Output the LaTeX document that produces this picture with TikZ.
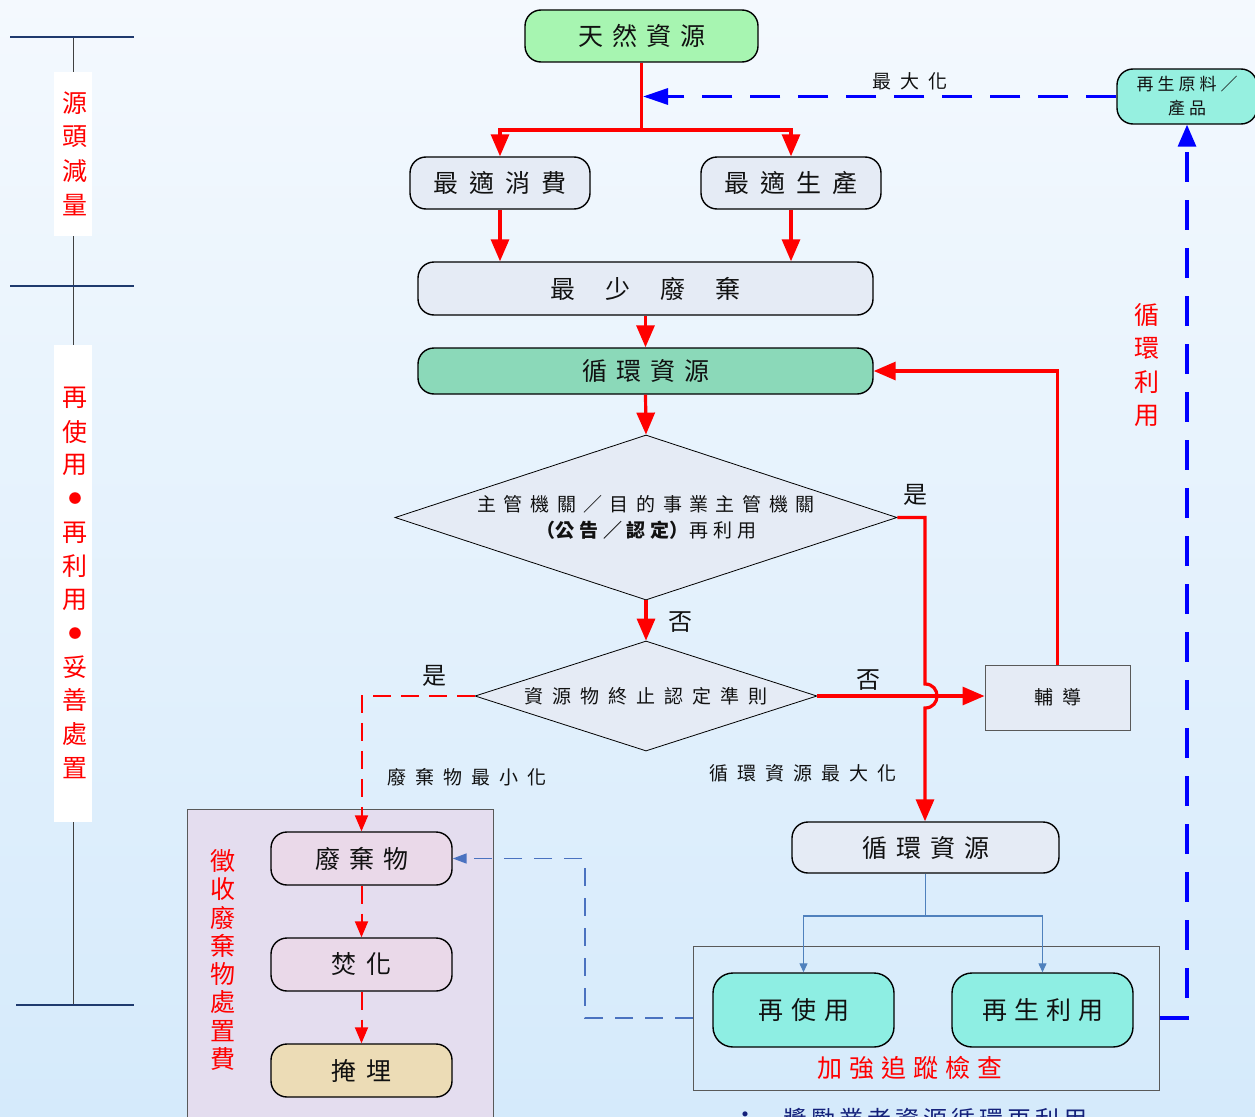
\documentclass[tikz,border=0pt]{standalone}
\usepackage{fontspec}
\setmainfont{Noto Sans CJK TC}
\usetikzlibrary{arrows.meta,shapes.geometric}
\definecolor{bgtop}{HTML}{F4F9FE}
\definecolor{bgbot}{HTML}{D5EAFB}
\definecolor{cGreen}{HTML}{A7F5B1}
\definecolor{cLav}{HTML}{E5EBF5}
\definecolor{cMint}{HTML}{8BD9B9}
\definecolor{cTeal}{HTML}{8EEEE3}
\definecolor{cRaw}{HTML}{96F0E0}
\definecolor{cPink}{HTML}{EAD9E9}
\definecolor{cBeige}{HTML}{ECDCB6}
\definecolor{cLbox}{HTML}{E4DDEF}
\definecolor{cSteel}{HTML}{4F81BD}
\definecolor{cBlueThin}{HTML}{4A72C0}
\definecolor{cNavy}{HTML}{1F3A6E}
\definecolor{cRed}{HTML}{FF0000}
\definecolor{cBlue}{HTML}{0000FF}
\definecolor{cText}{HTML}{111111}
\definecolor{cAward}{HTML}{14207A}
\newcommand\fsL{\fontsize{25}{30}\selectfont}
\newcommand\fsM{\fontsize{19}{26}\selectfont}
\newcommand\fsS{\fontsize{17}{23}\selectfont}
\newcommand\spc[2]{\def\spcgap{\hspace*{#1}}\spcloop#2\spcend}
\def\spcloop#1#2\spcend{#1\ifx\relax#2\relax\else\spcgap\spcloop#2\spcend\fi}
\newcommand\rdot{{\fontsize{13}{13}\selectfont ●}}
\begin{document}
\begin{tikzpicture}[x=1pt,y=-1pt,
  rbox/.style={draw=black, line width=1.4pt, rounded corners=16pt, inner sep=0pt, text=cText},
  redarrow/.style={draw=cRed, line width=3.2pt, -{Triangle[length=22pt,width=18pt]}},
  redline/.style={draw=cRed, line width=3.2pt},
  reddash/.style={draw=cRed, line width=2pt, dash pattern=on 18pt off 10pt, -{Triangle[length=16pt,width=13pt]}},
  bluedash/.style={draw=cBlue, line width=3.2pt, dash pattern=on 30pt off 18pt},
  bluethin/.style={draw=cBlueThin, line width=1.6pt, dash pattern=on 18pt off 12pt, -{Triangle[length=14pt,width=10pt]}},
  steel/.style={draw=cSteel, line width=1.2pt, -{Triangle[length=9pt,width=8pt]}},
  dia/.style={draw=black, line width=0.8pt, fill=cLav, shape=diamond, inner sep=0pt},
  lbl/.style={text=cText, inner sep=0pt},
  redv/.style={text=cRed, inner sep=0pt, font=\fsL},
]
\useasboundingbox (0,0) rectangle (1255,1116);
\shade[top color=bgtop, bottom color=bgbot] (0,0) rectangle (1255,1116);

% left scale bar
\draw[draw=black!75, line width=1pt] (73,37) -- (73,1005);
\draw[cNavy, line width=1.3pt] (10,37) -- (134,37);
\draw[cNavy, line width=1.3pt] (10,286) -- (134,286);
\draw[cNavy, line width=1.3pt] (16,1005) -- (134,1005);
\fill[white] (54,72) rectangle (92,236);
\fill[white] (54,345) rectangle (92,822);
\foreach \c [count=\i from 0] in {源,頭,減,量}
  \node[redv] (srcr\i) at (75,103+34*\i) {\c};
\foreach \c [count=\i from 0] in {再,使,用,\rdot,再,利,用,\rdot,妥,善,處,置}
  \node[redv] (reu\i) at (75,398+33.6*\i) {\c};

% boxes behind
\node[draw=black!65, fill=cLbox, line width=1pt, minimum width=306pt, minimum height=330pt, anchor=north west, inner sep=0pt] (feebox) at (187,809) {};
\node[draw=black!65, line width=1pt, minimum width=466pt, minimum height=144pt, inner sep=0pt] (track) at (926,1018) {};

% main nodes
\node[rbox, fill=cGreen, minimum width=233pt, minimum height=52pt] (nat) at (641.5,36) {\fsL\spc{9pt}{天然資源}};
\node[rbox, fill=cLav, minimum width=180pt, minimum height=52pt] (cons) at (500,183) {\fsL\spc{11pt}{最適消費}};
\node[rbox, fill=cLav, minimum width=180pt, minimum height=52pt] (prod) at (791,183) {\fsL\spc{11pt}{最適生產}};
\node[rbox, fill=cLav, minimum width=455pt, minimum height=53pt] (least) at (645.5,288.5) {\fsL\spc{30pt}{最少廢棄}};
\node[rbox, fill=cMint, minimum width=455pt, minimum height=46pt] (circ1) at (645.5,371) {\fsL\spc{9pt}{循環資源}};
\node[dia, minimum width=502pt, minimum height=165pt] (d1) at (646,517.5) {};
\node[lbl, align=center, font=\fsM] (d1t) at (646,517.5) {\spc{7.5pt}{主管機關／目的事業主管機關}\\ \textbf{（\spc{5pt}{公告／認定}）}\spc{5pt}{再利用}};
\node[dia, minimum width=342pt, minimum height=110pt] (d2) at (646,696) {};
\node[lbl, font=\fsM] (d2t) at (646,696) {\spc{9pt}{資源物終止認定準則}};
\node[draw=black!65, fill=cLav, line width=1pt, minimum width=145pt, minimum height=65pt, inner sep=0pt, text=cText] (guide) at (1057.5,697.5) {\fsM\spc{9pt}{輔導}};
\node[rbox, fill=cLav, minimum width=267pt, minimum height=51pt] (circ2) at (925.5,847.5) {\fsL\spc{9pt}{循環資源}};
\node[rbox, fill=cTeal, minimum width=181pt, minimum height=74pt, rounded corners=20pt] (reuse) at (803.5,1010) {\fsL\spc{8pt}{再使用}};
\node[rbox, fill=cTeal, minimum width=181pt, minimum height=74pt, rounded corners=20pt] (recyc) at (1042.5,1010) {\fsL\spc{7pt}{再生利用}};
\node[rbox, fill=cRaw, minimum width=140pt, minimum height=55pt, align=center, font=\fontsize{17}{24}\selectfont] (raw) at (1187,96.5) {\spc{4pt}{再生原料／}\\\spc{4pt}{產品}};
\node[rbox, fill=cPink, minimum width=181pt, minimum height=53pt] (waste) at (361.5,858.5) {\fsL\spc{9pt}{廢棄物}};
\node[rbox, fill=cPink, minimum width=181pt, minimum height=53pt] (incin) at (361.5,964.5) {\fsL\spc{10pt}{焚化}};
\node[rbox, fill=cBeige, minimum width=181pt, minimum height=53pt] (landf) at (361.5,1070.5) {\fsL\spc{10pt}{掩埋}};

% red flow
\coordinate (j1) at (641.5,130);
\draw[redline] (nat.south) -- (j1);
\draw[redarrow] (j1) -| (cons.north);
\draw[redarrow] (j1) -| (prod.north);
\draw[redarrow] (cons.south) -- (cons.south |- least.north);
\draw[redarrow] (prod.south) -- (prod.south |- least.north);
\draw[redarrow] (least.south) -- (circ1.north);
\draw[redarrow] (circ1.south) -- (d1.north);
\draw[redarrow] (d1.south) -- (d2.north);
\coordinate (h1) at (925,517.5);
\coordinate (hopA) at (925,684);
\coordinate (hopB) at (925,708);
\draw[redarrow] (d1.east) -- (h1) -- (hopA) .. controls (941,684) and (941,708) .. (hopB) -- (circ2.north -| hopB);
\draw[redarrow] (d2.east) -- (d2.east -| guide.west);
\draw[redarrow] (guide.north) |- (circ1.east);
\draw[reddash] (d2.west) -| (waste.north);
\draw[reddash] (waste.south) -- (incin.north);
\draw[reddash] (incin.south) -- (landf.north);

% blue flows
\coordinate (bj) at (585,1018);
\draw[bluethin] (track.west) -- (bj) |- (waste.east);
\coordinate (j2) at (925.5,916);
\draw[draw=cSteel, line width=1.2pt] (circ2.south) -- (j2);
\draw[steel] (j2) -| (reuse.north);
\draw[steel] (j2) -| (recyc.north);
\draw[bluedash, -{Triangle[length=22pt,width=18pt]}] (track.east) -| (raw.south);
\draw[bluedash, -{Triangle[length=25pt,width=16pt]}, shorten >=1.5pt] (raw.west) -- (raw.west -| nat.south);

% labels
\node[lbl, font=\fsM] (lmax) at (910,81) {\spc{9pt}{最大化}};
\node[lbl, font=\fontsize{24}{24}\selectfont] (yes1) at (915,495) {是};
\node[lbl, font=\fontsize{24}{24}\selectfont] (no1) at (680,622) {否};
\node[lbl, font=\fontsize{24}{24}\selectfont] (yes2) at (434,676) {是};
\node[lbl, font=\fontsize{24}{24}\selectfont] (no2) at (868,680) {否};
\node[lbl, font=\fsM] (wmin) at (467,777) {\spc{9pt}{廢棄物最小化}};
\node[lbl, font=\fsM] (rmax) at (803,773) {\spc{9pt}{循環資源最大化}};
\foreach \c [count=\i from 0] in {循,環,利,用}
  \node[redv] (cyc\i) at (1147,315+33.5*\i) {\c};
\foreach \c [count=\i from 0] in {徵,收,廢,棄,物,處,置,費}
  \node[redv] (fee\i) at (223,861+28.3*\i) {\c};
\node[lbl, text=cRed, font=\fsL] (chk) at (910,1068) {\spc{7pt}{加強追蹤檢查}};
\node[lbl, text=cAward, font=\fontsize{24}{24}\selectfont] (bul) at (745,1118) {•};
\node[lbl, text=cAward, font=\fontsize{24}{24}\selectfont, anchor=west] (award) at (783,1119) {\spc{4pt}{獎勵業者資源循環再利用}};
\end{tikzpicture}
\end{document}
